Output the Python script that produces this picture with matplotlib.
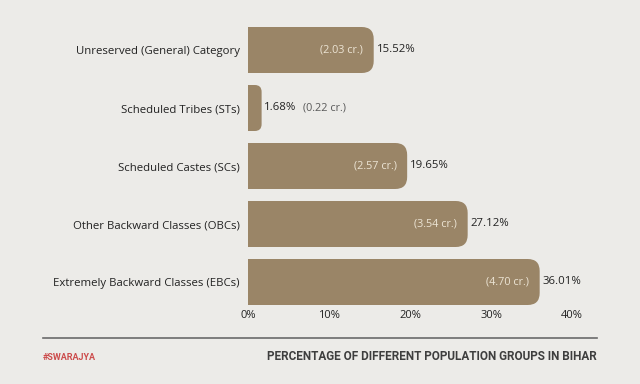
import matplotlib.pyplot as plt
from matplotlib.patches import FancyBboxPatch, Rectangle
from matplotlib.ticker import FuncFormatter

categories = ["Unreserved (General) Category", "Scheduled Tribes (STs)",
              "Scheduled Castes (SCs)", "Other Backward Classes (OBCs)",
              "Extremely Backward Classes (EBCs)"]
percent = [15.52, 1.68, 19.65, 27.12, 36.01]
crore = [2.03, 0.22, 2.57, 3.54, 4.70]
ticks = [0, 10, 20, 30, 40]

bg = "#ecebe8"
bar_col = "#9a8567"
font = ["Open Sans", "DejaVu Sans"]
cond = ["Roboto", "DejaVu Sans"]

fig = plt.figure(figsize=(6.4, 3.84), dpi=100, facecolor=bg)
ax = fig.add_axes([248/640, 1 - 311/384, 324/640, 290/384])
ax.set_facecolor(bg)
ax.set_xlim(0, 40)
ax.set_ylim(4.5, -0.5)

h = 46/58          # bar height in data units
rx0 = 12/8.1       # corner radius, x data units
ry0 = 12/58        # corner radius, y data units
for i, v in enumerate(percent):
    rx = min(rx0, v * 0.5)
    ry = ry0 * rx / rx0
    box = FancyBboxPatch((0, i - h/2), v, h,
                         boxstyle="round,pad=0,rounding_size=%f" % rx,
                         mutation_aspect=ry/rx, fc=bar_col, ec="none")
    ax.add_patch(box)
    ax.add_patch(Rectangle((0, i - h/2), v - rx, h, fc=bar_col, ec="none"))
    ax.annotate("%.2f%%" % v, (v, i), xytext=(2, 0),
                textcoords="offset points", ha="left", va="center",
                fontsize=8.2, color="#222222", family=font)
    if v > 5:
        ax.annotate("(%.2f cr.)" % crore[i], (v, i), xytext=(-7.5, 0),
                    textcoords="offset points", ha="right", va="center",
                    fontsize=7.8, color="#ece4d4", family=font)
    else:
        ax.annotate("(%.2f cr.)" % crore[i], (v, i), xytext=(30, 0),
                    textcoords="offset points", ha="left", va="center",
                    fontsize=7.8, color="#595959", family=font)

ax.set_yticks(range(len(categories)))
ax.set_yticklabels(categories, family=font, fontsize=8.2, color="#222222")
ax.set_xticks(ticks)
ax.xaxis.set_major_formatter(FuncFormatter(lambda x, p: "%d%%" % x))
for lab in ax.get_xticklabels():
    lab.set_family(font)
ax.tick_params(axis="x", length=0, pad=-1, labelsize=8, labelcolor="#222222")
ax.tick_params(axis="y", length=0, pad=6)
for s in ax.spines.values():
    s.set_visible(False)

fig.add_artist(plt.Line2D([43/640, 597/640], [1 - 338/384, 1 - 338/384],
                          color="#6a6a6a", lw=1.2))
fig.text(43/640, 1 - 357/384, "#SWARAJYA", color="#cc4b4b", fontsize=6.5,
         fontweight="bold", family=cond, ha="left", va="center")
fig.text(597/640, 1 - 357/384, "PERCENTAGE OF DIFFERENT POPULATION GROUPS IN BIHAR",
         color="#3e3e3e", fontsize=8.5, fontweight="bold", family=cond,
         ha="right", va="center")

fig.savefig("out.png", dpi=100, facecolor=bg)
